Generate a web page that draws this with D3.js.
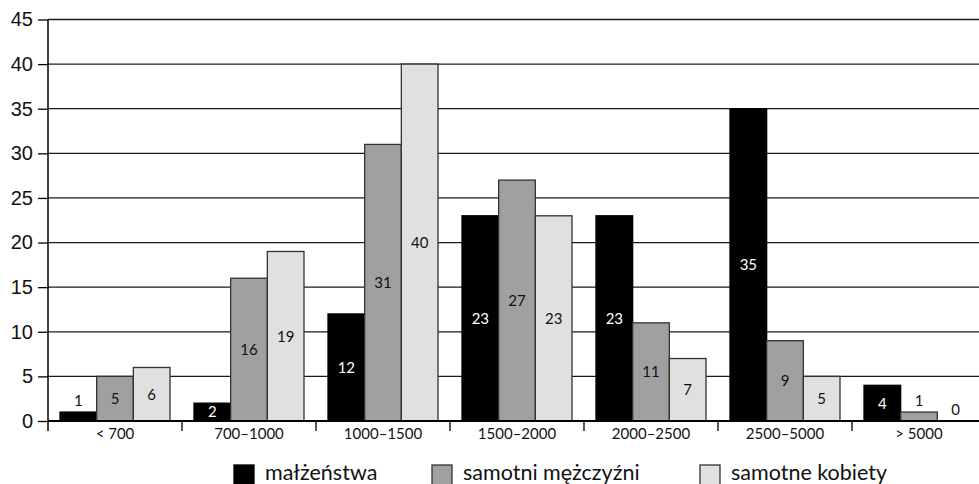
<!DOCTYPE html>
<html>
<head>
<meta charset="utf-8">
<script src="https://cdn.jsdelivr.net/npm/d3@7"></script>
<style>
  html, body { margin: 0; padding: 0; background: #fff; }
  svg { display: block; }
  text { font-weight: 400; }
</style>
</head>
<body>
<svg id="chart" width="979" height="484"></svg>
<script>
// Income brackets (PLN) and household counts per group
const categories = ["< 700", "700–1000", "1000–1500", "1500–2000", "2000–2500", "2500–5000", "> 5000"];
const seriesNames = ["małżeństwa", "samotni mężczyźni", "samotne kobiety"];
const malzenstwa = [1, 2, 12, 23, 23, 35, 4];
const samotniMezczyzni = [5, 16, 31, 27, 11, 9, 1];
const samotneKobiety = [6, 19, 40, 23, 7, 5, 0];
const yTicks = [0, 5, 10, 15, 20, 25, 30, 35, 40, 45];

const seriesValues = [malzenstwa, samotniMezczyzni, samotneKobiety];
const fills = ["#000000", "#a0a0a0", "#e0e0e0"];
const labelColors = ["#ffffff", "#111111", "#111111"];

const svg = d3.select("#chart");
const W = 979;
const plotLeft = 48, plotTop = 19.5, plotBottom = 421;

const x = d3.scaleBand().domain(categories).range([plotLeft, plotLeft + 134 * categories.length]).padding(0);
const xs = d3.scaleBand().domain(d3.range(seriesNames.length)).range([12, x.bandwidth() - 12]).padding(0);
const y = d3.scaleLinear().domain([0, 45]).range([plotBottom, plotTop]);

// horizontal gridlines
svg.append("g").selectAll("line")
  .data(yTicks.filter(d => d > 0))
  .join("line")
  .attr("x1", plotLeft).attr("x2", W)
  .attr("y1", d => y(d)).attr("y2", d => y(d))
  .attr("stroke", "#1a1a1a").attr("stroke-width", 1.3);

// bars
const rows = [];
categories.forEach((c, i) => {
  seriesValues.forEach((vals, s) => rows.push({ cat: c, s, v: vals[i] }));
});

svg.append("g").selectAll("rect")
  .data(rows.filter(d => d.v > 0))
  .join("rect")
  .attr("x", d => x(d.cat) + xs(d.s))
  .attr("width", xs.bandwidth())
  .attr("y", d => y(d.v))
  .attr("height", d => y(0) - y(d.v))
  .attr("fill", d => fills[d.s])
  .attr("stroke", d => d.s === 0 ? "#000" : "#333")
  .attr("stroke-width", 1.3);

// value labels: centred inside the bar, or just above it when the bar is too short
svg.append("g").selectAll("text")
  .data(rows)
  .join("text")
  .attr("x", d => x(d.cat) + xs(d.s) + xs.bandwidth() / 2)
  .attr("y", d => (y(0) - y(d.v)) < 15 ? y(d.v) - 11 : (y(d.v) + y(0)) / 2)
  .attr("dy", "0.36em")
  .attr("text-anchor", "middle")
  .attr("font-family", "Lato, sans-serif")
  .attr("font-weight", 400)
  .attr("font-size", 15)
  .attr("fill", d => (y(0) - y(d.v)) < 15 ? "#111" : labelColors[d.s])
  .text(d => d.v);

// y axis
const yAxis = svg.append("g").attr("transform", `translate(${plotLeft},0)`)
  .call(d3.axisLeft(y).tickValues(yTicks).tickSize(10).tickPadding(5));
yAxis.select(".domain").remove();
yAxis.append("line").attr("x1", 0).attr("x2", 0).attr("y1", plotTop).attr("y2", plotBottom + 10)
  .attr("stroke", "#000").attr("stroke-width", 1.5);
yAxis.selectAll(".tick line").attr("stroke", "#000").attr("stroke-width", 1.3);
yAxis.selectAll(".tick text")
  .attr("font-family", "'Liberation Sans', Arial, sans-serif")
  .attr("font-size", 20).attr("fill", "#111");

// x axis baseline, boundary ticks and category labels
const xAxis = svg.append("g");
xAxis.append("line").attr("x1", plotLeft).attr("x2", W).attr("y1", plotBottom).attr("y2", plotBottom)
  .attr("stroke", "#000").attr("stroke-width", 2);
xAxis.selectAll("line.bound")
  .data(categories.slice(1))
  .join("line").attr("class", "bound")
  .attr("x1", d => x(d)).attr("x2", d => x(d))
  .attr("y1", plotBottom).attr("y2", plotBottom + 10)
  .attr("stroke", "#000").attr("stroke-width", 1.3);
xAxis.selectAll("text")
  .data(categories)
  .join("text")
  .attr("x", d => x(d) + x.bandwidth() / 2)
  .attr("y", 439)
  .attr("text-anchor", "middle")
  .attr("font-family", "Lato, sans-serif")
  .attr("font-size", 15)
  .attr("fill", "#111")
  .text(d => d);

// legend
const legendX = [234, 432, 700];
const legend = svg.append("g").selectAll("g")
  .data(seriesNames)
  .join("g")
  .attr("transform", (d, i) => `translate(${legendX[i]},0)`);
legend.append("rect")
  .attr("x", 0).attr("y", 465).attr("width", 20).attr("height", 20)
  .attr("fill", (d, i) => fills[i])
  .attr("stroke", (d, i) => i === 0 ? "#000" : "#333").attr("stroke-width", 1.3);
legend.append("text")
  .attr("x", 31).attr("y", 480)
  .attr("font-family", "Lato, sans-serif")
  .attr("font-size", 21.5)
  .attr("fill", "#111")
  .text(d => d);
</script>
</body>
</html>
